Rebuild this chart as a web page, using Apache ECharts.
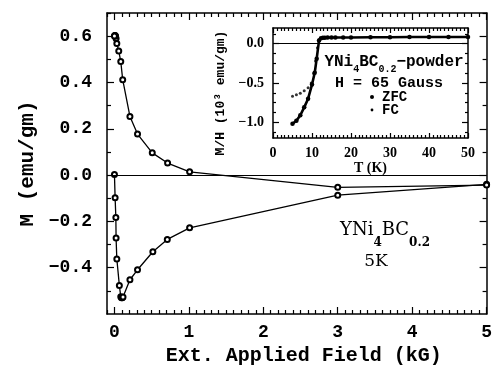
<!DOCTYPE html>
<html><head><meta charset="utf-8">
<script src="https://cdn.jsdelivr.net/npm/echarts@6/dist/echarts.min.js"></script>
<style>html,body{margin:0;padding:0;background:#fff}#c{width:495px;height:374px}</style>
</head><body><div id="c"></div>
<script>
// ---- Main panel data: M (emu/gm) vs external applied field (kG), 5 K ----
const mainXTicks = [0, 1, 2, 3, 4, 5];
const mainYTicks = [-0.4, -0.2, 0.0, 0.2, 0.4, 0.6];
const virginField = [0, 0.009, 0.019, 0.022, 0.032, 0.066, 0.085, 0.095, 0.105, 0.115, 0.208, 0.31, 0.516, 0.71, 1.01, 3.0, 5.0];
const virginM     = [0.003, -0.098, -0.183, -0.272, -0.362, -0.477, -0.525, -0.530, -0.530, -0.527, -0.452, -0.409, -0.331, -0.278, -0.228, -0.087, -0.040];
const returnField = [5.0, 3.0, 1.01, 0.714, 0.508, 0.31, 0.208, 0.111, 0.085, 0.058, 0.032, 0.022, 0.015, 0.01, 0.005, 0.0];
const returnM     = [-0.043, -0.053, 0.014, 0.052, 0.096, 0.177, 0.253, 0.412, 0.49, 0.536, 0.568, 0.59, 0.6, 0.603, 0.603, 0.601];

// ---- Inset data: M/H (10^3 emu/gm) vs T (K), H = 65 Gauss ----
const insetXTicks = [0, 10, 20, 30, 40, 50];
const insetYTicks = [-1.0, -0.5, 0.0];
const zfcT  = [5, 6, 7, 8, 9, 10, 10.7, 11.2, 11.8, 12.3, 12.8, 13.3, 14, 15, 16, 18, 20, 25, 30, 35, 40, 45, 50];
const zfcMH = [-1.02, -0.98, -0.91, -0.81, -0.70, -0.52, -0.37, -0.19, 0.04, 0.07, 0.075, 0.075, 0.078, 0.08, 0.08, 0.08, 0.08, 0.082, 0.082, 0.085, 0.085, 0.085, 0.085];
const fcT   = [5, 6, 7, 8, 9, 9.8, 10.4, 10.9, 11.4, 12];
const fcMH  = [-0.67, -0.65, -0.63, -0.60, -0.56, -0.50, -0.38, -0.22, -0.05, 0.06];

const monoB = 'Liberation Mono';
const fmt1 = v => (Math.abs(v) < 1e-9 ? '0.0' : v.toFixed(1)).replace('-', '\u2212');
function minorVals(min, max, step, majors) {
  const out = [];
  for (let i = Math.ceil(min / step - 1e-6); i * step <= max + 1e-9; i++) {
    const v = +(i * step).toFixed(6);
    if (!majors.some(m => Math.abs(m - v) < 1e-6)) out.push(v);
  }
  return out;
}
const lineStyle = { color: '#000', width: 1.5 };
function axis(kind, grid, pos, min, max, vals, len, opts) {
  const a = {
    type: 'value', gridIndex: grid, position: pos, min: min, max: max,
    splitLine: { show: false },
    axisLine: { show: !!(opts && opts.line), onZero: false, lineStyle: lineStyle },
    axisTick: { show: true, inside: true, length: len, customValues: vals, lineStyle: { color: '#000', width: 1.2 } },
    axisLabel: { show: false }
  };
  if (opts && opts.label) a.axisLabel = Object.assign({ show: true, customValues: vals, color: '#000' }, opts.label);
  if (opts && opts.name) Object.assign(a, opts.name);
  return a;
}
const mXmin = -0.1, mXmax = 5, mYmin = -0.6, mYmax = 0.7;
const mXminor = minorVals(mXmin, mXmax, 0.1, mainXTicks);
const mYminor = minorVals(mYmin, mYmax, 0.1, mainYTicks.concat([-0.6]));
const iXmin = 0, iXmax = 50, iYmin = -1.2, iYmax = 0.2;
const iXminor = minorVals(iXmin, iXmax, 1, insetXTicks);
const iYminor = minorVals(iYmin, iYmax, 0.125, insetYTicks);

const xAxes = [
  axis('x', 0, 'bottom', mXmin, mXmax, mainXTicks, 7, {
    line: true,
    label: { margin: 9, fontFamily: monoB, fontWeight: 'bold', fontSize: 18, formatter: v => String(v) },
    name: { name: 'Ext. Applied Field (kG)', nameLocation: 'middle', nameGap: 28,
      nameTextStyle: { fontFamily: monoB, fontWeight: 'bold', fontSize: 20, color: '#000', padding: [0, 0, 0, 14] } }
  }),
  axis('x', 0, 'bottom', mXmin, mXmax, mXminor, 4),
  axis('x', 0, 'top', mXmin, mXmax, mainXTicks, 7, { line: true }),
  axis('x', 0, 'top', mXmin, mXmax, mXminor, 4),
  axis('x', 1, 'bottom', iXmin, iXmax, insetXTicks, 5, {
    line: true,
    label: { margin: 8, fontFamily: 'Liberation Serif', fontWeight: 'bold', fontSize: 14, formatter: v => String(v) },
    name: { name: 'T (K)', nameLocation: 'middle', nameGap: 21,
      nameTextStyle: { fontFamily: 'Liberation Serif', fontWeight: 'bold', fontSize: 14, color: '#000' } }
  }),
  axis('x', 1, 'bottom', iXmin, iXmax, iXminor, 3),
  axis('x', 1, 'top', iXmin, iXmax, insetXTicks, 5, { line: true }),
  axis('x', 1, 'top', iXmin, iXmax, iXminor, 3)
];
const yAxes = [
  axis('y', 0, 'left', mYmin, mYmax, mainYTicks, 7, {
    line: true,
    label: { margin: 15, fontFamily: monoB, fontWeight: 'bold', fontSize: 18, formatter: fmt1 },
    name: { name: 'M (emu/gm)', nameLocation: 'middle', nameGap: 66, nameRotate: 90,
      nameTextStyle: { fontFamily: monoB, fontWeight: 'bold', fontSize: 21, color: '#000' } }
  }),
  axis('y', 0, 'left', mYmin, mYmax, mYminor, 4),
  axis('y', 0, 'right', mYmin, mYmax, mainYTicks, 7, { line: true }),
  axis('y', 0, 'right', mYmin, mYmax, mYminor, 4),
  axis('y', 1, 'left', iYmin, iYmax, insetYTicks, 6, {
    line: true,
    label: { margin: 9, fontFamily: 'Liberation Serif', fontWeight: 'bold', fontSize: 14, formatter: fmt1 }
  }),
  axis('y', 1, 'left', iYmin, iYmax, iYminor, 3),
  axis('y', 1, 'right', iYmin, iYmax, insetYTicks, 6, { line: true }),
  axis('y', 1, 'right', iYmin, iYmax, iYminor, 3)
];

const zip = (a, b) => a.map((v, i) => [v, b[i]]);
const zeroLine = { silent: true, symbol: 'none', label: { show: false },
  lineStyle: { color: '#000', width: 1, type: 'solid' }, data: [{ yAxis: 0 }] };

const chart = echarts.init(document.getElementById('c'), null, { renderer: 'canvas' });
chart.setOption({
  animation: false,
  backgroundColor: '#fff',
  grid: [
    { left: 107, top: 13, width: 384, height: 301 },
    { left: 273, top: 28, width: 195, height: 110 }
  ],
  xAxis: xAxes,
  yAxis: yAxes,
  series: [
    { type: 'line', xAxisIndex: 0, yAxisIndex: 0, data: zip(virginField, virginM),
      symbol: 'emptyCircle', symbolSize: 5, showAllSymbol: true,
      lineStyle: { color: '#000', width: 1.3 }, itemStyle: { color: '#000', borderColor: '#000', borderWidth: 1 },
      markLine: zeroLine, z: 3 },
    { type: 'line', xAxisIndex: 0, yAxisIndex: 0, data: zip(returnField, returnM),
      symbol: 'emptyCircle', symbolSize: 5, showAllSymbol: true,
      lineStyle: { color: '#000', width: 1.3 }, itemStyle: { color: '#000', borderColor: '#000', borderWidth: 1 }, z: 3 },
    { type: 'line', xAxisIndex: 4, yAxisIndex: 4, data: zip(zfcT, zfcMH),
      symbol: 'circle', symbolSize: 4.5, showAllSymbol: true,
      lineStyle: { color: '#000', width: 2.6 }, itemStyle: { color: '#000' },
      markLine: zeroLine, z: 4 },
    { type: 'scatter', xAxisIndex: 4, yAxisIndex: 4, data: zip(fcT, fcMH),
      symbol: 'circle', symbolSize: 3, itemStyle: { color: '#000' }, z: 4 }
  ],
  graphic: [
    { type: 'text', x: 385, y: 230, z: 10, style: {
        text: '{m|YNi}{s|4}{m|BC}{s|0.2}', align: 'center', verticalAlign: 'middle',
        rich: { m: { fontFamily: 'DejaVu Serif', fontSize: 18, lineHeight: 38, verticalAlign: 'middle', fill: '#000' },
                s: { fontFamily: 'DejaVu Serif', fontSize: 12, fontWeight: 'bold', lineHeight: 12, verticalAlign: 'bottom', fill: '#000' } } } },
    { type: 'text', x: 376, y: 262, z: 10, style: {
        text: '5K', align: 'center', verticalAlign: 'middle',
        font: '17px "DejaVu Serif"', fill: '#000' } },
    { type: 'text', x: 221, y: 93, rotation: Math.PI / 2, z: 10, style: {
        text: 'M/H (10³ emu/gm)', align: 'center', verticalAlign: 'middle',
        font: 'bold 13px "Liberation Mono"', fill: '#000' } },
    { type: 'text', x: 394, y: 62, z: 10, style: {
        text: '{m|YNi}{s|4}{m|BC}{s|0.2}{m|\u2212powder}', align: 'center', verticalAlign: 'middle',
        rich: { m: { fontFamily: monoB, fontWeight: 'bold', fontSize: 16, lineHeight: 24, verticalAlign: 'middle', fill: '#000' },
                s: { fontFamily: monoB, fontWeight: 'bold', fontSize: 10, lineHeight: 10, verticalAlign: 'bottom', fill: '#000' } } } },
    { type: 'text', x: 389, y: 83, z: 10, style: {
        text: 'H = 65 Gauss', align: 'center', verticalAlign: 'middle',
        font: 'bold 15px "Liberation Mono"', fill: '#000' } },
    { type: 'circle', z: 10, shape: { cx: 372, cy: 97, r: 2 }, style: { fill: '#000' } },
    { type: 'text', x: 382, y: 97, z: 10, style: {
        text: 'ZFC', align: 'left', verticalAlign: 'middle',
        font: 'bold 14px "Liberation Mono"', fill: '#000' } },
    { type: 'circle', z: 10, shape: { cx: 372, cy: 110, r: 1.4 }, style: { fill: '#000' } },
    { type: 'text', x: 382, y: 110, z: 10, style: {
        text: 'FC', align: 'left', verticalAlign: 'middle',
        font: 'bold 14px "Liberation Mono"', fill: '#000' } }
  ]
});
</script>
</body></html>
